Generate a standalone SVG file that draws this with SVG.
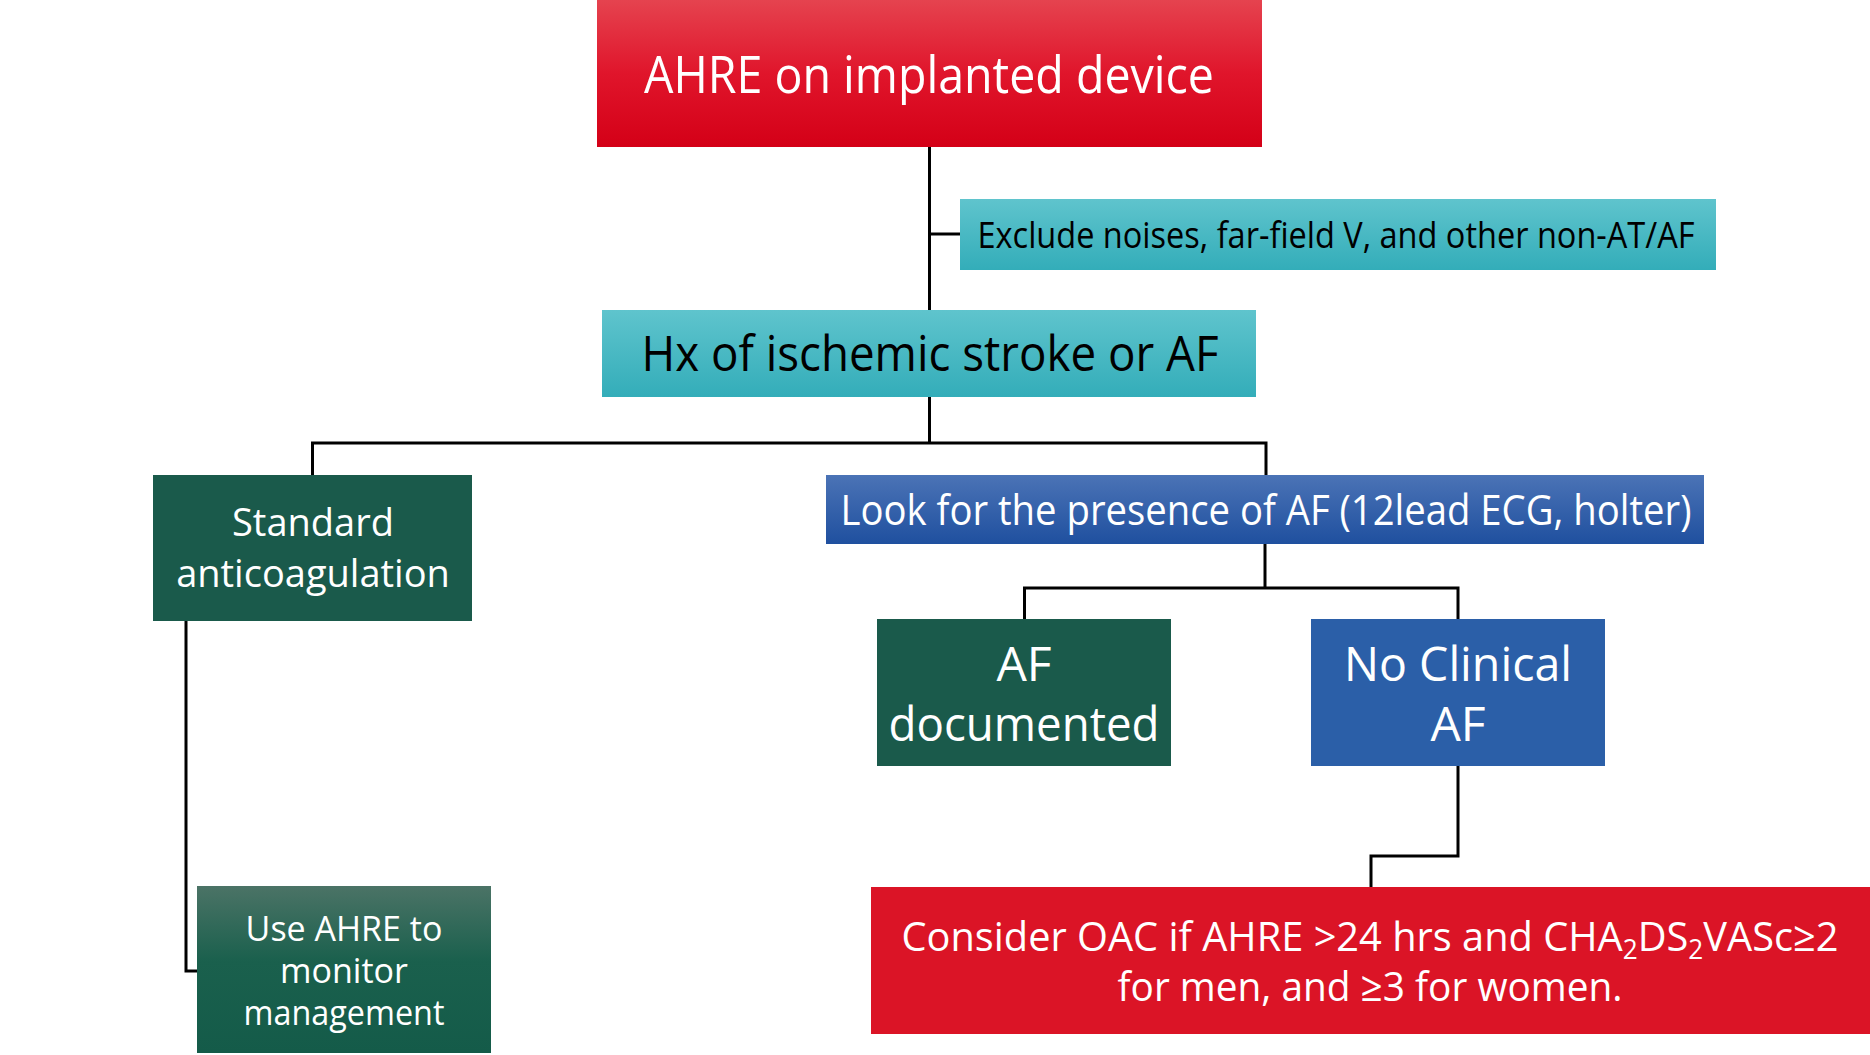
<svg xmlns="http://www.w3.org/2000/svg" width="1870" height="1055" viewBox="0 0 1870 1055">
  <defs>
    <linearGradient id="gRed" x1="0" y1="0" x2="0" y2="1">
      <stop offset="0" stop-color="#E5434F"/>
      <stop offset="0.5" stop-color="#E0152B"/>
      <stop offset="1" stop-color="#D40017"/>
    </linearGradient>
    <linearGradient id="gTeal" x1="0" y1="0" x2="0" y2="1">
      <stop offset="0" stop-color="#5FC4CD"/>
      <stop offset="1" stop-color="#33ADB9"/>
    </linearGradient>
    <linearGradient id="gBlue" x1="0" y1="0" x2="0" y2="1">
      <stop offset="0" stop-color="#4B73B6"/>
      <stop offset="1" stop-color="#1F509F"/>
    </linearGradient>
    <linearGradient id="gGreen" x1="0" y1="0" x2="0" y2="1">
      <stop offset="0" stop-color="#4B7366"/>
      <stop offset="0.45" stop-color="#1A604D"/>
      <stop offset="1" stop-color="#145B49"/>
    </linearGradient>
  </defs>
  <style>
    text { font-family: "Open Sans", "Noto Sans", "DejaVu Sans", sans-serif; text-anchor: middle; }
    .w { fill: #FFFFFF; }
    .k { fill: #000000; }
    .sub { font-size: 27px; }
    .conn { fill: none; stroke: #000000; stroke-width: 3; }
  </style>
  <rect width="1870" height="1055" fill="#FFFFFF"/>

  <g id="connectors">
    <path class="conn" d="M929.5 147 V310"/>
    <path class="conn" d="M929.5 234 H960"/>
    <path class="conn" d="M929.5 397 V443"/>
    <path class="conn" d="M312.5 475 V443 H1266 V475"/>
    <path class="conn" d="M186 621 V971 H197"/>
    <path class="conn" d="M1265 544 V588"/>
    <path class="conn" d="M1024.5 619 V588 H1458 V619"/>
    <path class="conn" d="M1458 766 V856 H1371 V887"/>
  </g>

  <g id="node-ahre">
    <rect x="597" y="0" width="665" height="147" fill="url(#gRed)"/>
    <text class="w" x="929" y="93" font-size="52" textLength="570" lengthAdjust="spacingAndGlyphs">AHRE on implanted device</text>
  </g>

  <g id="node-exclude">
    <rect x="960" y="199" width="756" height="71" fill="url(#gTeal)"/>
    <text class="k" x="1336" y="248" font-size="37" textLength="717" lengthAdjust="spacingAndGlyphs">Exclude noises, far-field V, and other non-AT/AF</text>
  </g>

  <g id="node-hx">
    <rect x="602" y="310" width="654" height="87" fill="url(#gTeal)"/>
    <text class="k" x="930" y="371" font-size="50" textLength="577" lengthAdjust="spacingAndGlyphs">Hx of ischemic stroke or AF</text>
  </g>

  <g id="node-standard">
    <rect x="153" y="475" width="319" height="146" fill="#1A5A4B"/>
    <text class="w" x="313" y="536" font-size="38">Standard</text>
    <text class="w" x="313" y="587" font-size="38">anticoagulation</text>
  </g>

  <g id="node-look">
    <rect x="826" y="475" width="878" height="69" fill="url(#gBlue)"/>
    <text class="w" x="1266" y="525" font-size="42" textLength="851" lengthAdjust="spacingAndGlyphs">Look for the presence of AF (12lead ECG, holter)</text>
  </g>

  <g id="node-afdoc">
    <rect x="877" y="619" width="294" height="147" fill="#1A5A4B"/>
    <text class="w" x="1024" y="681" font-size="48">AF</text>
    <text class="w" x="1024" y="741" font-size="48" textLength="271" lengthAdjust="spacingAndGlyphs">documented</text>
  </g>

  <g id="node-noclinical">
    <rect x="1311" y="619" width="294" height="147" fill="#2B5FA8"/>
    <text class="w" x="1458" y="681" font-size="48" textLength="228" lengthAdjust="spacingAndGlyphs">No Clinical</text>
    <text class="w" x="1458" y="741" font-size="48">AF</text>
  </g>

  <g id="node-useahre">
    <rect x="197" y="886" width="294" height="167" fill="url(#gGreen)"/>
    <text class="w" x="344" y="941" font-size="34">Use AHRE to</text>
    <text class="w" x="344" y="983" font-size="34">monitor</text>
    <text class="w" x="344" y="1025" font-size="34" textLength="201" lengthAdjust="spacingAndGlyphs">management</text>
  </g>

  <g id="node-consider">
    <rect x="871" y="887" width="999" height="147" fill="#DB1426"/>
    <text class="w" x="1370" y="951" font-size="41" textLength="937" lengthAdjust="spacingAndGlyphs">Consider OAC if AHRE &gt;24 hrs and CHA<tspan class="sub" baseline-shift="-8">2</tspan>DS<tspan class="sub" baseline-shift="-8">2</tspan>VASc≥2</text>
    <text class="w" x="1370" y="1001" font-size="41" textLength="505" lengthAdjust="spacingAndGlyphs">for men, and ≥3 for women.</text>
  </g>
</svg>
